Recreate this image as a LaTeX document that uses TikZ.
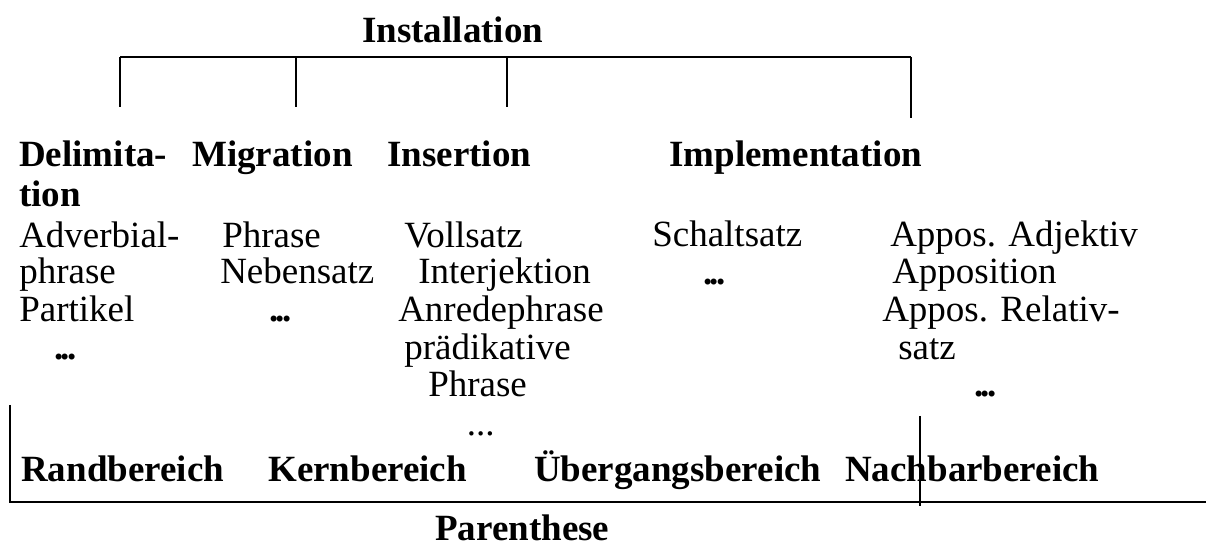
\documentclass[tikz,border=0pt]{standalone}
\usepackage{fontspec}
\setmainfont{Liberation Serif}
\newcommand\mydots{\textbf{.\kern-2pt.\kern-2pt.}}
\begin{document}
\begin{tikzpicture}[x=0.75pt,y=-0.75pt,
  txt/.style={anchor=base west,inner sep=0pt,font=\fontsize{27.75}{30}\selectfont},
  hd/.style={anchor=base west,inner sep=0pt,font=\fontsize{27.75}{30}\selectfont\bfseries},
  ln/.style={line width=1.5pt}]
\useasboundingbox (0,0) rectangle (1206,548);
% top bracket
\coordinate (t1) at (120,57);
\coordinate (t2) at (296,57);
\coordinate (t3) at (507,57);
\coordinate (t4) at (911,57);
\coordinate (b1) at (120,107);
\coordinate (b2) at (296,107);
\coordinate (b3) at (507,107);
\coordinate (b4) at (911,118);
\draw[ln] (t1) -- (t4);
\draw[ln] (t1) -- (b1);
\draw[ln] (t2) -- (b2);
\draw[ln] (t3) -- (b3);
\draw[ln] (t4) -- (b4);
% bottom bracket
\coordinate (l1) at (10,405);
\coordinate (l2) at (10,502);
\coordinate (r2) at (1206,502);
\coordinate (m1) at (920,416);
\coordinate (m2) at (920,506);
\draw[ln] (l1) -- (l2) -- (r2);
\draw[ln] (m1) -- (m2);
% headings
\node[hd] (inst) at (362,43) {Installation};
\node[hd] (del1) at (19,167) {Delimita-};
\node[hd] (del2) at (19,207) {tion};
\node[hd] (mig) at (192,167) {Migration};
\node[hd] (ins) at (387,167) {Insertion};
\node[hd] (imp) at (669,167) {Implementation};
% column 1
\node[txt] (a1) at (19,248) {Adverbial-};
\node[txt] (a2) at (19,284) {phrase};
\node[txt] (a3) at (19,322) {Partikel};
\node[txt] (a4) at (54,360) {\mydots};
% column 2
\node[txt] (b1t) at (222,248) {Phrase};
\node[txt] (b2t) at (220,284) {Nebensatz};
\node[txt] (b3t) at (269,322) {\mydots};
% column 3
\node[txt] (c1) at (404,248) {Vollsatz};
\node[txt] (c2) at (418,284) {Interjektion};
\node[txt] (c3) at (398,322) {Anredephrase};
\node[txt] (c4) at (404,360) {prädikative};
\node[txt] (c5) at (428,397) {Phrase};
\node[txt] (c6) at (466.5,436) {...};
% column 4
\node[txt] (d1) at (652,247) {Schaltsatz};
\node[txt] (d2) at (703,285) {\mydots};
% column 5
\node[txt] (e1) at (890,247) {Appos. Adjektiv};
\node[txt] (e2) at (892,284) {Apposition};
\node[txt] (e3) at (882,322) {Appos. Relativ-};
\node[txt] (e4) at (898,360) {satz};
\node[txt] (e5) at (974,397) {\mydots};
% bottom
\node[hd] (rand) at (21,482) {Randbereich};
\node[hd] (kern) at (268,482) {Kernbereich};
\node[hd] (ueb) at (534,482) {Übergangsbereich};
\node[hd] (nach) at (845,482) {Nachbarbereich};
\node[hd] (par) at (435,540) {Parenthese};
\end{tikzpicture}
\end{document}
